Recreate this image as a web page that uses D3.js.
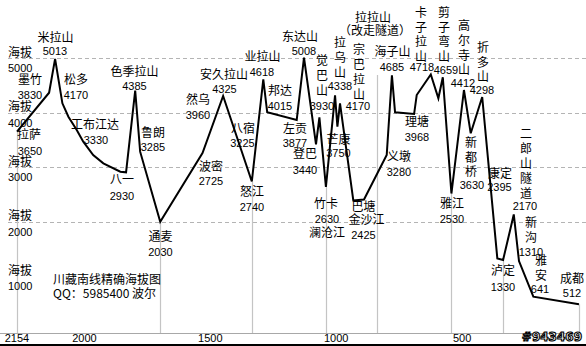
<!DOCTYPE html>
<html><head><meta charset="utf-8">
<script src="https://cdn.jsdelivr.net/npm/d3@7"></script>
<style>body{margin:0;background:#fff}svg{display:block}</style>
</head><body><svg id="c" width="586" height="346"></svg>
<script>
// Route profile: distance to Chengdu (km) and elevation (m)
const profileKm = [2154,2031,2008,1980,1957,1925,1900,1862,1823,1758,1736,1701,1682,1605,1443,1364,1254,1210,1195,1082,1054,1008,995,970,935,926,916,865,824,737,717,705,632,622,568,539,522,489,441,415,371,313,291,250,230,175,0];
const profileElev = [3650,4364,4985,4170,3925,3681,3467,3223,3071,2918,2907,4401,3284,2002,3260,4304,2738,4610,4005,3864,5008,3420,3914,2637,4317,3742,4167,2390,2408,3223,4683,4005,3974,4322,4698,4262,4647,2518,4414,3621,4286,1328,1300,2134,1282,628,490];
// drop lines to the axis
const dropKm = [2154,1605,1254,970,773,489,291,0];
const dropElev = [3650,2002,2738,2637,4689,2518,1300,490];
const gridValues = [5000,4000,3000,2000];
const yLabelValues = [5000,4000,3000,2000,1000];
const xTickValues = [2000,1500,1000,500];
const xStartLabel = "2154";
// Place names (lines; several are written vertically) and marked elevations
const placeNames = [["拉萨"],["墨竹"],["米拉山"],["松多"],["工布江达"],["八一"],["色季拉山"],["鲁朗"],["通麦"],["波密"],["然乌"],["安久拉山"],["八宿"],["怒江"],["业拉山"],["邦达"],["左贡"],["东达山"],["登巴"],["觉","巴","山"],["竹卡"],["拉","乌","山"],["芒康"],["宗","巴","拉","山"],["拉拉山","（改走隧道）"],["巴塘","金沙江"],["海子山"],["义墩"],["理塘"],["卡","子","拉","山"],["剪","子","弯","山"],["高","尔","寺","山"],["折","多","山"],["新","都","桥"],["雅江"],["康定"],["二","郎","山","隧","道"],["泸定"],["新","沟"],["雅","安"],["成都"]];
const placeElevs = ["3650","3830","5013","4170","3330","2930","4385","3285","2030","2725","3960","4325","3225","2740","4618","4015","3877","5008","3440","3930","2630","4338","3750","4170","","2425","4685","3280","3968","4718","4659","4412","4298","3630","2530","2395","2170","1330","1310","641","512"];
const extraNote = {21:"澜沧江"}; // second line under value for 竹卡 (index 20)
const titleLines = ["川藏南线精确海拔图","QQ：5985400 波尔"];
const watermark = "#943469";

// layout (pixels): [nameX, firstNameBaseline, lineStep, valueX, valueBaseline]
const layout = [
 [29,139,0,30,155],[30,84,0,30,99],[55.5,42,0,55,55],[76,84,0,76,99],[95,129,0,96,144],
 [122,184,0,122,200],[134.5,76,0,134.5,90],[153,137,0,153,151],[160.5,241,0,160.5,256],[211,171,0,211,185],
 [198,104,0,198,119],[224,79,0,224.5,93],[243,133,0,242.5,147],[252,196,0,252,211],[262.5,61,0,262,76],
 [280,95,0,280,110],[295,133,0,295,147],[300,41,0,304,55],[305,158,0,305,174],[322,65,15,322,110],
 [326,208,0,327,223],[340,47,15,340,90],[338.5,144,0,338.5,157],[359,54,15,358,110],[373,22,13,0,0],
 [363.5,211,13,363.5,239],[392.5,56,0,392,71],[399,161,0,399,176],[417,126,0,417,141],[421,17,14.5,422,71],
 [444,17,14.5,446,74],[464,30,14.8,463,87],[483,52,14.5,482,94],[471,147,14.5,472,189],[452,208,0,452,223],
 [500,178,0,499.5,191],[526,138,15,525,210],[503,275,0,503,291],[531,227,15,531,256],[541,265,15,540,293],
 [572,283,0,572,297]
];

const svg = d3.select("#c");
const x = d3.scaleLinear().domain([2154, 0]).range([17, 579]);
const xTick = d3.scaleLinear().domain([2260, 0]).range([17, 586]);
const y = d3.scaleLinear().domain([0, 5000]).range([331, 58]);
const axisY = 333;
const cjk = "'Noto Sans CJK SC','Noto Sans',sans-serif";
const num = "'Liberation Sans',Arial,sans-serif";

// gridlines
svg.append("g").selectAll("line").data(gridValues).join("line")
  .attr("x1", 8).attr("x2", 586)
  .attr("y1", d => Math.round(y(d)) + 0.5).attr("y2", d => Math.round(y(d)) + 0.5)
  .attr("stroke", "#b4b4b4").attr("stroke-dasharray", "4,3").attr("stroke-width", 1);

// axis line
svg.append("line").attr("x1", 0).attr("x2", x(0)).attr("y1", axisY + 0.5).attr("y2", axisY + 0.5)
  .attr("stroke", "#a8a8a8");

// drop lines
svg.append("g").selectAll("line").data(dropKm).join("line")
  .attr("x1", d => Math.round(x(d)) + 0.5).attr("x2", d => Math.round(x(d)) + 0.5)
  .attr("y1", (d, i) => y(dropElev[i])).attr("y2", axisY)
  .attr("stroke", "#c4c4c4").attr("stroke-width", 1.2);

// bottom border
svg.append("rect").attr("x", 0).attr("y", 344).attr("width", 586).attr("height", 2).attr("fill", "#000");

// profile line
const pts = profileKm.map((k, i) => [k, profileElev[i]]);
svg.append("path").datum(pts)
  .attr("d", d3.line().x(d => x(d[0])).y(d => y(d[1])))
  .attr("fill", "none").attr("stroke", "#000").attr("stroke-width", 2).attr("stroke-linejoin", "miter");

// y labels
const yl = svg.append("g");
yLabelValues.forEach(v => {
  yl.append("text").attr("x", 8).attr("y", y(v) - 1.5).text("海拔")
    .attr("font-family", cjk).attr("font-size", 12).attr("fill", "#000");
  yl.append("text").attr("x", 8).attr("y", y(v) + 14).text(v)
    .attr("font-family", num).attr("font-size", 11).attr("fill", "#000");
});

// x tick labels
const xg = svg.append("g").attr("font-family", num).attr("font-size", 11).attr("text-anchor", "middle");
xg.append("text").attr("x", x(2154)).attr("y", 342).text(xStartLabel);
xg.selectAll("text.t").data(xTickValues).join("text").attr("class", "t")
  .attr("x", d => xTick(d) + 2).attr("y", 342).text(d => d);

// place labels
const lg = svg.append("g").attr("text-anchor", "middle").attr("fill", "#000");
placeNames.forEach((lines, i) => {
  const [nx, ny, step, vx, vy] = layout[i];
  lines.forEach((t, j) => {
    lg.append("text").attr("x", nx + (lines.length === 2 && step === 13 && j === 1 && i === 25 ? 3 : 0) + (i === 24 && j === 1 ? 2 : 0))
      .attr("y", ny + j * (step || 14))
      .attr("font-family", cjk).attr("font-size", 12).text(t);
  });
  if (placeElevs[i]) {
    lg.append("text").attr("x", vx).attr("y", vy).attr("font-family", num).attr("font-size", 11).text(placeElevs[i]);
  }
  if (extraNote[i + 1]) {
    lg.append("text").attr("x", vx).attr("y", vy + 14).attr("font-family", cjk).attr("font-size", 12).text(extraNote[i + 1]);
  }
});

// title
svg.append("g").selectAll("text").data(titleLines).join("text")
  .attr("x", 53).attr("y", (d, i) => 283.5 + i * 14.5)
  .attr("font-family", cjk).attr("font-size", 12).text(d => d);

// watermark
svg.append("text").attr("x", 582).attr("y", 341).attr("text-anchor", "end")
  .attr("font-family", "'DejaVu Sans',sans-serif").attr("font-weight", "bold").attr("font-size", 12)
  .attr("fill", "#fff").attr("stroke", "#000").attr("stroke-width", 1.1).text(watermark);
</script></body></html>
